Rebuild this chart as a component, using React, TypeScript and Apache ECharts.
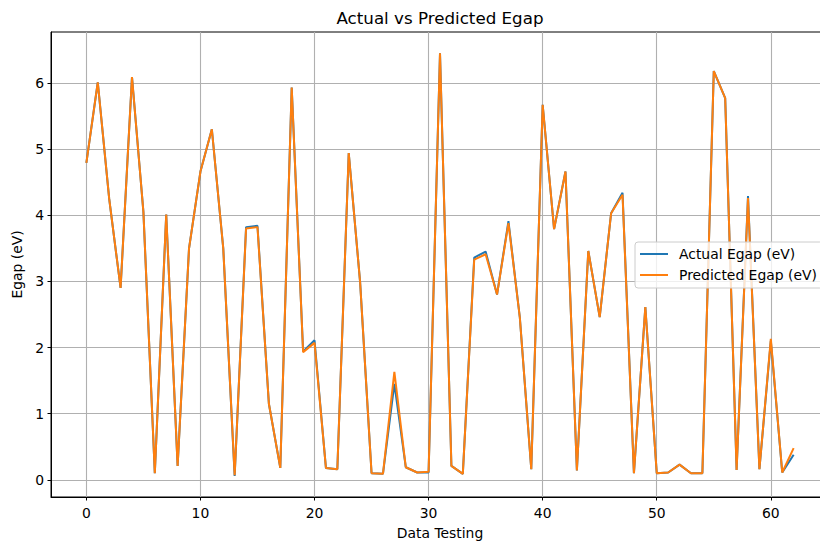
import React, { useEffect, useRef } from "react";
import * as echarts from "echarts";

const indices: number[] = Array.from({ length: 63 }, (_, i) => i);

const actualEgap: number[] = [
  4.79, 6.01, 4.25, 2.9, 6.09, 4.05, 0.1, 4.01, 0.21, 3.5,
  4.66, 5.3, 3.5, 0.06, 3.82, 3.84, 1.15, 0.18, 5.93, 1.94,
  2.11, 0.18, 0.16, 4.94, 2.98, 0.1, 0.09, 1.45, 0.19, 0.11,
  0.11, 6.45, 0.21, 0.09, 3.36, 3.45, 2.8, 3.91, 2.45, 0.16,
  5.67, 3.79, 4.66, 0.14, 3.46, 2.46, 4.03, 4.34, 0.1, 2.61,
  0.1, 0.11, 0.23, 0.1, 0.1, 6.18, 5.77, 0.15, 4.29, 0.16,
  2.1, 0.11, 0.38,
];

const predictedEgap: number[] = [
  4.79, 6.01, 4.25, 2.9, 6.09, 4.05, 0.1, 4.01, 0.21, 3.5,
  4.66, 5.3, 3.5, 0.07, 3.8, 3.82, 1.15, 0.18, 5.93, 1.93,
  2.07, 0.18, 0.16, 4.94, 2.98, 0.1, 0.09, 1.63, 0.19, 0.11,
  0.12, 6.45, 0.21, 0.09, 3.33, 3.41, 2.8, 3.88, 2.45, 0.16,
  5.67, 3.79, 4.66, 0.14, 3.46, 2.46, 4.03, 4.31, 0.1, 2.61,
  0.1, 0.11, 0.23, 0.1, 0.1, 6.18, 5.77, 0.15, 4.26, 0.16,
  2.13, 0.11, 0.48,
];

const xTicks: number[] = [0, 10, 20, 30, 40, 50, 60];
const yTicks: number[] = [0, 1, 2, 3, 4, 5, 6];

const FONT = "DejaVu Sans";

export default function App() {
  const ref = useRef<HTMLDivElement>(null);
  useEffect(() => {
    if (!ref.current) return;
    const chart = echarts.init(ref.current, null, { renderer: "svg" });
    const option: any = {
      animation: false,
      backgroundColor: "#ffffff",
      textStyle: { fontFamily: FONT },
      title: {
        text: "Actual vs Predicted Egap",
        left: 440,
        top: 9,
        padding: 0,
        textAlign: "center",
        textStyle: { fontFamily: FONT, fontSize: 16.7, fontWeight: "normal", color: "#000" },
      },
      grid: {
        left: 51,
        top: 32,
        width: 778,
        height: 465,
        show: true,
        outerBoundsMode: "none",
        containLabel: false,
        borderColor: "#000",
        borderWidth: 1,
        backgroundColor: "transparent",
      },
      legend: {
        orient: "vertical",
        left: 635,
        top: 242,
        icon: "rect",
        itemWidth: 28,
        itemHeight: 2,
        itemGap: 5,
        padding: [4, 6, 5, 5],
        backgroundColor: "rgba(255,255,255,0.8)",
        borderColor: "#cccccc",
        borderWidth: 1,
        borderRadius: 3,
        textStyle: { fontFamily: FONT, fontSize: 13.9, color: "#000", lineHeight: 16, padding: [0, 0, 0, 6] },
        data: ["Actual Egap (eV)", "Predicted Egap (eV)"],
      },
      xAxis: {
        type: "value",
        min: -3.1,
        max: 65.1,
        name: "Data Testing",
        nameLocation: "middle",
        nameGap: 29,
        nameTextStyle: { fontFamily: FONT, fontSize: 13.9, color: "#000" },
        axisLine: { show: true, onZero: false, lineStyle: { color: "#000", width: 1 } },
        axisTick: { show: true, inside: false, length: 3.5, customValues: xTicks, lineStyle: { color: "#000", width: 1 } },
        axisLabel: { margin: 9, fontFamily: FONT, fontSize: 13.9, color: "#000", customValues: xTicks },
        splitLine: { show: true, lineStyle: { color: "#b0b0b0", width: 1.1 } },
      },
      yAxis: {
        type: "value",
        min: -0.26,
        max: 6.77,
        name: "Egap (eV)",
        nameLocation: "middle",
        nameGap: 22,
        nameTextStyle: { fontFamily: FONT, fontSize: 13.9, color: "#000" },
        axisLine: { show: true, onZero: false, lineStyle: { color: "#000", width: 1 } },
        axisTick: { show: true, inside: false, length: 3.5, customValues: yTicks, lineStyle: { color: "#000", width: 1 } },
        axisLabel: { margin: 7, fontFamily: FONT, fontSize: 13.9, color: "#000", customValues: yTicks },
        splitLine: { show: true, lineStyle: { color: "#b0b0b0", width: 1.1 } },
      },
      series: [
        {
          name: "Actual Egap (eV)",
          type: "line",
          data: indices.map((i) => [i, actualEgap[i]]),
          showSymbol: false,
          symbol: "none",
          color: "#1f77b4",
          lineStyle: { color: "#1f77b4", width: 2 },
        },
        {
          name: "Predicted Egap (eV)",
          type: "line",
          data: indices.map((i) => [i, predictedEgap[i]]),
          showSymbol: false,
          symbol: "none",
          color: "#ff7f0e",
          lineStyle: { color: "#ff7f0e", width: 2 },
        },
      ],
    };
    chart.setOption(option);
    return () => chart.dispose();
  }, []);
  return (
    <div style={{ position: "absolute", left: 0, top: 0, width: 820, height: 543, overflow: "hidden" }}>
      <div ref={ref} style={{ width: 860, height: 543 }} />
    </div>
  );
}
